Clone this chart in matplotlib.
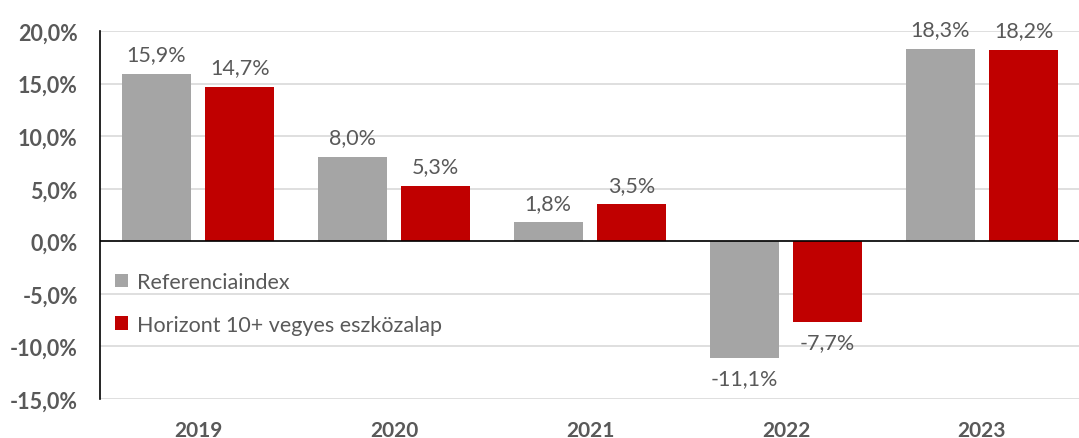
import numpy as np
import matplotlib
matplotlib.use('Agg')
from matplotlib import pyplot as plt

plt.rcParams['font.family'] = ['Lato', 'DejaVu Sans']

years = ['2019', '2020', '2021', '2022', '2023']
referencia = [15.9, 8.0, 1.8, -11.1, 18.3]
horizont = [14.7, 5.3, 3.5, -7.7, 18.2]
series_names = ['Referenciaindex', 'Horizont 10+ vegyes eszközalap']
yticks = [-15, -10, -5, 0, 5, 10, 15, 20]

gray = '#a5a5a5'
red = '#c00000'
txt = '#595959'

fig = plt.figure(figsize=(10.79, 4.39), dpi=100)
ax = fig.add_axes([100/1079, 1 - 400/439, 980/1079, 368/439])

x = np.arange(len(years))
w = 0.35
off = 0.213
b1 = ax.bar(x - off, referencia, w, color=gray, label=series_names[0], zorder=3)
b2 = ax.bar(x + off, horizont, w, color=red, label=series_names[1], zorder=3)

def fmt(v):
    return f'{v:.1f}%'.replace('.', ',')

for bars, vals in ((b1, referencia), (b2, horizont)):
    for rect, v in zip(bars, vals):
        cx = rect.get_x() + rect.get_width() / 2
        if v >= 0:
            ax.annotate(fmt(v), (cx, v), xytext=(0, 7), textcoords='offset points',
                        ha='center', va='bottom', fontsize=15.5, color=txt)
        else:
            ax.annotate(fmt(v), (cx, v), xytext=(0, -7), textcoords='offset points',
                        ha='center', va='top', fontsize=15.5, color=txt)

ax.set_xlim(-0.5, len(years) - 0.5)
ax.set_ylim(-15, 20)
ax.set_yticks(yticks)
ax.set_yticklabels([f'{t:.1f}%'.replace('.', ',') for t in yticks],
                   fontsize=15.5, fontweight='bold', color=txt)
ax.set_xticks(x)
ax.set_xticklabels(years, fontsize=15, fontweight='bold', color=txt)
ax.tick_params(axis='both', length=0)
ax.tick_params(axis='x', pad=15)
ax.tick_params(axis='y', pad=16)

ax.grid(axis='y', color='#d9d9d9', linewidth=1.2, zorder=0)
ax.axhline(0, color='black', linewidth=1.2, zorder=4)
for s in ['top', 'right', 'bottom']:
    ax.spines[s].set_visible(False)
ax.spines['left'].set_color('black')
ax.spines['left'].set_linewidth(1.2)

leg = ax.legend(loc='center left', bbox_to_anchor=(0.0, 0.26), frameon=False,
                fontsize=15.5, handlelength=0.6, handleheight=0.6,
                handletextpad=0.4, labelspacing=1.05, borderaxespad=0.3)
for t in leg.get_texts():
    t.set_color(txt)

fig.savefig('out.png', dpi=100)
